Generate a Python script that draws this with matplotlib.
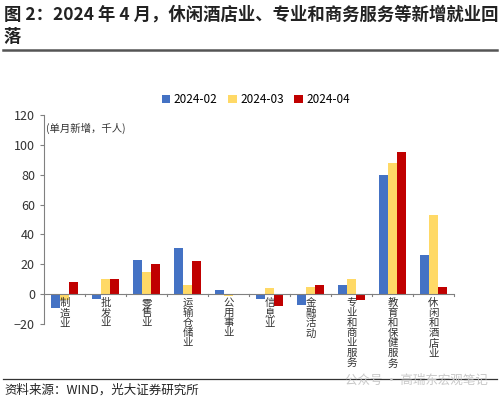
import matplotlib
matplotlib.use("Agg")
import matplotlib.pyplot as plt
import numpy as np
from matplotlib.lines import Line2D

plt.rcParams['font.family'] = ['Noto Sans CJK SC', 'DejaVu Sans']

categories = ["制造业", "批发业", "零售业", "运输仓储业", "公用事业", "信息业",
              "金融活动", "专业和商业服务", "教育和保健服务", "休闲和酒店业"]
series_names = ["2024-02", "2024-03", "2024-04"]
v_feb = [-9, -3, 23, 31, 3, -3, -7, 6, 80, 26]
v_mar = [-4, 10, 15, 6, -1, 4, 5, 10, 88, 53]
v_apr = [8, 10, 20, 22, 0, -8, 6, -4, 95, 5]
colors = ["#4472C4", "#FFD966", "#C00000"]
y_ticks = [-20, 0, 20, 40, 60, 80, 100, 120]

fig = plt.figure(figsize=(5.0, 4.01), dpi=100)
ax = fig.add_axes([0.088, 0.192, 0.82, 0.521])

x = np.arange(len(categories))
w = 0.22
for k, vals in enumerate([v_feb, v_mar, v_apr]):
    ax.bar(x + (k - 1) * w, vals, width=w, color=colors[k], label=series_names[k], zorder=2)

ax.set_xlim(-0.5, len(categories) - 0.5)
ax.set_ylim(-20, 120)
ax.set_yticks(y_ticks)
ax.tick_params(axis='y', labelsize=9, length=3, color='#808080', labelcolor='#333333')
ax.set_xticks([])
for s in ['top', 'right', 'bottom']:
    ax.spines[s].set_visible(False)
ax.spines['left'].set_color('#808080')
ax.spines['left'].set_linewidth(0.8)
ax.axhline(0, color='#808080', lw=0.8, zorder=3)
# boundary tick marks on the zero line
for b in np.arange(0.5, len(categories) - 0.5 + 1e-9, 1.0):
    ax.plot([b, b], [0, -1.5], color='#808080', lw=0.8, zorder=3, clip_on=False)

for i, c in enumerate(categories):
    ax.annotate("\n".join(c), xy=(i, 0), xytext=(0, -3), textcoords='offset points',
                ha='center', va='top', fontsize=7.5, linespacing=1.0, color='#333333')

ax.text(0.005, 0.965, "(单月新增，千人)", transform=ax.transAxes, fontsize=7.5,
        ha='left', va='top', color='#333333')

fig.legend(loc='center', bbox_to_anchor=(0.512, 0.752), ncol=3, frameon=False,
           fontsize=8.5, handlelength=0.7, handleheight=0.7, handletextpad=0.3,
           columnspacing=0.9)

fig.text(0.008, 0.963, "图 2：2024 年 4 月，休闲酒店业、专业和商务服务等新增就业回",
         fontsize=12.5, fontweight='bold', ha='left', va='center', color='#222222')
fig.text(0.008, 0.908, "落", fontsize=12.5, fontweight='bold', ha='left', va='center',
         color='#222222')
fig.add_artist(Line2D([0.006, 0.994], [1 - 50 / 401, 1 - 50 / 401], color='#555555',
                      lw=1.8, transform=fig.transFigure))
fig.add_artist(Line2D([0.006, 0.994], [1 - 379 / 401, 1 - 379 / 401], color='#333333',
                      lw=0.9, transform=fig.transFigure))
fig.text(0.008, 1 - 390 / 401, "资料来源：WIND，光大证券研究所", fontsize=9,
         ha='left', va='center', color='#222222')
fig.text(0.975, 1 - 380 / 401, "公众号 · 高瑞东宏观笔记", fontsize=9,
         ha='right', va='center', color='#c8c8c8')

fig.savefig("out.png", dpi=100)
